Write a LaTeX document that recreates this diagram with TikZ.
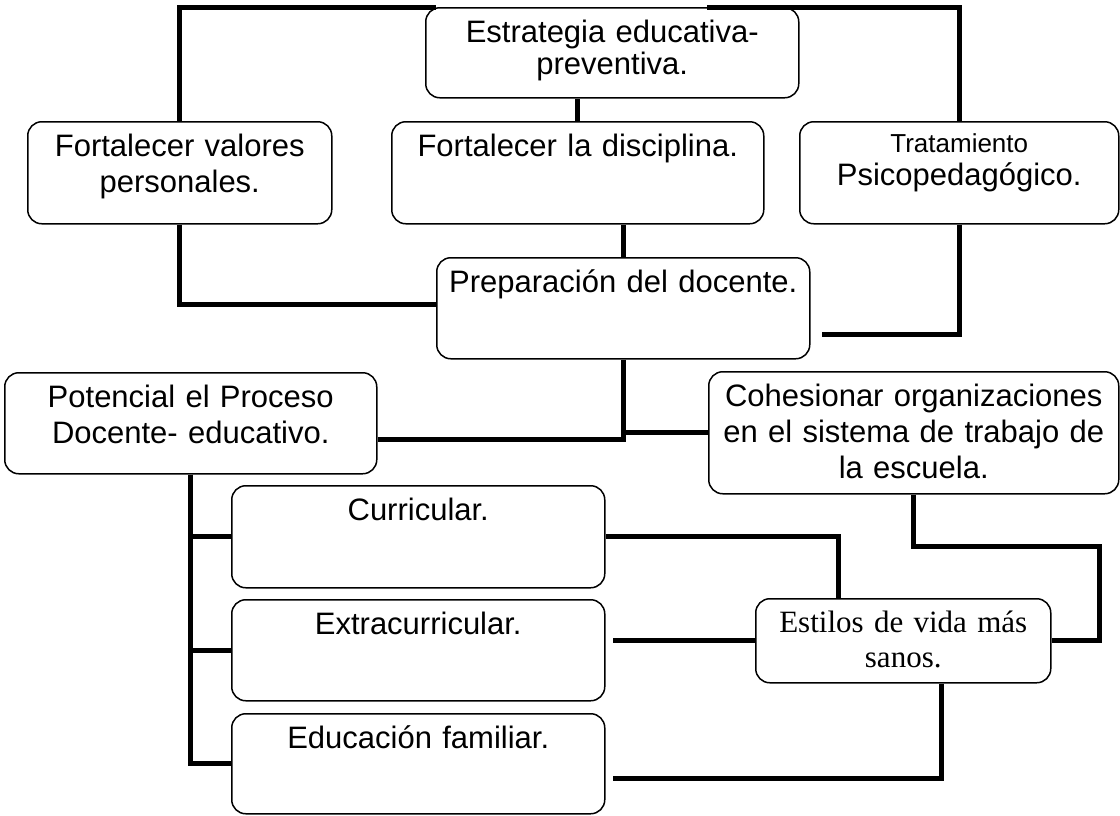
\documentclass[tikz,border=0pt]{standalone}
\usepackage{fontspec}
\setmainfont{Liberation Sans}
\newfontfamily\estserif{Liberation Serif}
\tikzset{
	caja/.style={draw, line width=1.5pt, rounded corners=14pt, anchor=north west,
		inner xsep=2pt, inner ysep=0pt, align=center, text height=35pt,
		font=\fontsize{31}{36}\selectfont},
	enlace/.style={line width=5pt}
}
\begin{document}
\begin{tikzpicture}[x=1pt,y=-1pt]
			\useasboundingbox (0,0) rectangle (1120,815);
			\node[caja, text width=369pt, text depth=55pt] (E) at (425,7) {Estrategia educativa-\\[-4pt]preventiva.};
			\node[caja, text width=300pt, text depth=67pt] (V) at (27,121) {Fortalecer valores\\personales.};
			\node[caja, text width=368pt, text depth=67pt] (D) at (391,121) {Fortalecer la disciplina.};
			\node[caja, text width=315pt, text height=31pt, text depth=71pt] (T) at (799,121) {{\fontsize{26}{30}\selectfont Tratamiento}\\[-3pt]Psicopedagógico.};
			\node[caja, text width=369pt, text depth=66pt] (P) at (436,257) {Preparación del docente.};
			\node[caja, text width=368pt, text depth=66pt] (PD) at (4,372) {Potencial el Proceso\\Docente- educativo.};
			\node[caja, text width=406pt, text depth=87pt] (C) at (708,371) {Cohesionar organizaciones\\en el sistema de trabajo de\\la escuela.};
			\node[caja, text width=369pt, text depth=67pt] (CU) at (231,485) {Curricular.};
			\node[caja, text width=369pt, text depth=66pt] (EX) at (231,599) {Extracurricular.};
			\node[caja, text width=369pt, text depth=65pt] (EF) at (231,713) {Educación familiar.};
			\node[caja, text width=291pt, text height=34pt, text depth=50pt,
				font=\estserif\fontsize{31}{35}\selectfont] (S) at (755,598) {Estilos de vida más\\sanos.};
			\draw[enlace] (V.north) |- ([xshift=11pt]E.north west);
			\draw[enlace] (T.north) |- ([xshift=-93pt]E.north east);
			\draw[enlace] (D.north) -- (D.north |- E.south);
			\draw[enlace] (P.north) -- (P.north |- D.south);
			\draw[enlace] (V.south) |- ([yshift=4pt]P.west);
			\draw[enlace] (T.south) |- ([xshift=11pt,yshift=-26pt]P.east);
			\draw[enlace] (P.south) |- ([yshift=-16pt]PD.east);
			\draw[enlace] (C.west) -| (P.south);
			\foreach \n in {CU,EX,EF}
				\draw[enlace] (PD.south) |- (\n.west);
			\draw[enlace] (CU.east) -| ([xshift=83pt]S.north west);
			\draw[enlace] (S.west) -- ([xshift=7pt]EX.east |- S.west);
			\draw[enlace] (C.south) -- ++(0,52) -| ([xshift=48pt]S.east) -- (S.east);
			\draw[enlace] ([xshift=38pt]S.south) |- ([xshift=7pt,yshift=-15pt]EF.east);
		\end{tikzpicture}
\end{document}
